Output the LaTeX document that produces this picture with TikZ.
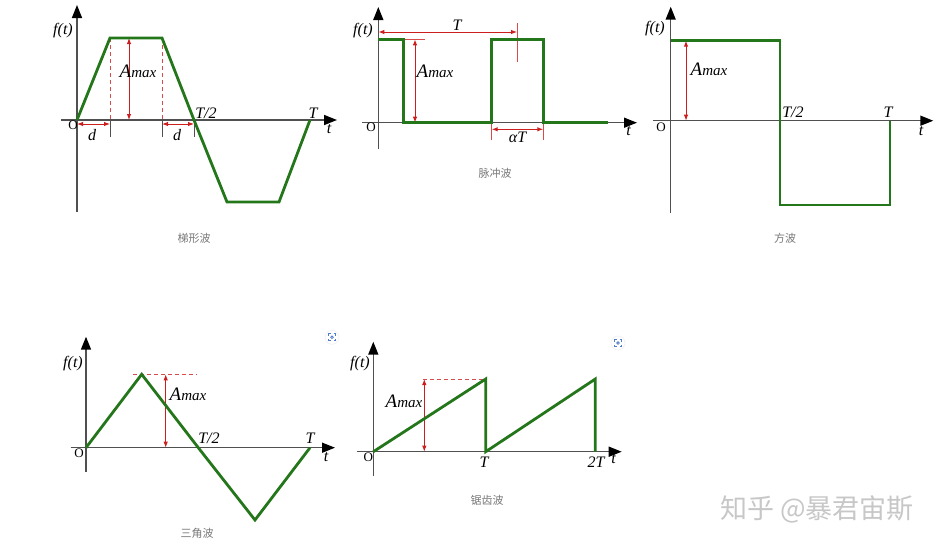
\documentclass[tikz,border=0pt]{standalone}
\usepackage{fontspec}
\setmainfont{Liberation Serif}
\newfontfamily\cjk{Noto Sans CJK SC}
\usepackage{tikz}
\usetikzlibrary{arrows.meta}
\definecolor{wavegreen}{RGB}{36,118,26}
\definecolor{dimred}{RGB}{205,30,30}
\definecolor{axisgray}{RGB}{80,80,80}
\definecolor{capgray}{RGB}{120,120,120}
\definecolor{iconblue}{RGB}{80,125,205}
\newcommand{\Amax}{{\fontsize{19}{19}\selectfont A}{\fontsize{15}{15}\selectfont max}}

\begin{document}
\begin{tikzpicture}[x=1pt, y=-1pt,
  axisline/.style={axisgray, line width=1.5pt, -{Triangle[length=13pt,width=10pt,color=black]}},
  wave/.style={wavegreen, line width=2.8pt, line join=miter},
  dimline/.style={dimred, line width=1pt, {Latex[length=6pt,width=4.5pt]}-{Latex[length=6pt,width=4.5pt]}},
  guide/.style={dimred!80, line width=1pt, dash pattern=on 4pt off 3pt},
  redline/.style={dimred!80, line width=1pt},
  tickline/.style={axisgray, line width=1pt},
  lbl/.style={font=\fontsize{16}{16}\selectfont\itshape, inner sep=0pt},
  orig/.style={font=\fontsize{13}{13}\selectfont, inner sep=0pt},
  wavecap/.style={font=\cjk\fontsize{11}{11}\selectfont, text=capgray, inner sep=0pt}]
  \useasboundingbox (0,0) rectangle (942,547);

  % trapezoid wave
  \draw[axisline] (61,120) -- (337,120);
  \draw[axisline] (77,212) -- (77,5);
  \draw[guide] (110,38) -- (110,120);
  \draw[guide] (162,38) -- (162,120);
  \foreach \x in {110,162,194}{
  \draw[tickline] (\x,120) -- (\x,137);
  }
  \draw[dimline] (129,38) -- (129,120);
  \draw[dimline] (77,124) -- (110,124);
  \draw[dimline] (162,124) -- (194,124);
  \draw[wave] (77,120) -- (110,38) -- (162,38) -- (194,120) -- (227,202) -- (279,202) -- (310,120);
  \node[lbl] (f1) at (63,31) {f(t)};
  \node[lbl] (a1) at (138,71) {\Amax};
  \node[orig] (o1) at (73,125) {O};
  \node[lbl] (d1) at (92,135) {d};
  \node[lbl] (d2) at (177,135) {d};
  \node[lbl] (h1) at (206,113) {T/2};
  \node[lbl] (p1) at (313,113) {T};
  \node[lbl] (t1) at (329,129) {t};
  \node[wavecap] (c1) at (194,238) {梯形波};

  % pulse wave
  \draw[axisline] (362,122.7) -- (637,122.7);
  \draw[axisline] (378.3,149) -- (378.3,7);
  \draw[dimline] (378.3,32) -- (517,32);
  \draw[redline] (517,23) -- (517,62);
  \draw[redline] (403,39.3) -- (425,39.3);
  \draw[dimline] (415,39.3) -- (415,122.7);
  \draw[redline] (491.7,122.7) -- (491.7,140);
  \draw[redline] (543.3,122.7) -- (543.3,140);
  \draw[dimline] (491.7,129.3) -- (543.3,129.3);
  \draw[wave] (378.3,39.3) -- (403.3,39.3) -- (403.3,122.7) -- (491.7,122.7) -- (491.7,39.3) -- (543.3,39.3) -- (543.3,122.7) -- (608,122.7);
  \node[lbl] (f2) at (363,31) {f(t)};
  \node[lbl] (p2) at (457,25) {T};
  \node[lbl] (a2) at (435,71) {\Amax};
  \node[orig] (o2) at (371,127.5) {O};
  \node[lbl] (w2) at (517.5,137) {αT};
  \node[lbl] (t2) at (628.5,131) {t};
  \node[wavecap] (c2) at (495,173.5) {脉冲波};

  % square wave
  \draw[axisline] (653,120.7) -- (933.3,120.7);
  \draw[axisline] (670.7,212.7) -- (670.7,6.7);
  \draw[dimline] (686,40.7) -- (686,120.7);
  \draw[wave] (670.7,40.7) -- (780,40.7) -- (780,205) -- (890,205) -- (890,120.7);
  \node[lbl] (f3) at (655,29) {f(t)};
  \node[lbl] (a3) at (709,69) {\Amax};
  \node[orig] (o3) at (661,127) {O};
  \node[lbl] (h3) at (793,112) {T/2};
  \node[lbl] (p3) at (888,112) {T};
  \node[lbl] (t3) at (921,131) {t};
  \node[wavecap] (c3) at (785,238) {方波};

  % triangle wave
  \draw[axisline] (70.7,447.7) -- (335,447.7);
  \draw[axisline] (86,471.7) -- (86,336.7);
  \draw[guide] (133.3,374.3) -- (196.7,374.3);
  \draw[dimline] (165.7,374.3) -- (165.7,447.7);
  \draw[wave] (86,447.7) -- (141.7,374.3) -- (198.3,447.7) -- (255,520) -- (310,447.7);
  \node[lbl] (f4) at (73,364) {f(t)};
  \node[lbl] (a4) at (188,394) {\Amax};
  \node[orig] (o4) at (79,453.5) {O};
  \node[lbl] (h4) at (209,438) {T/2};
  \node[lbl] (p4) at (310,438) {T};
  \node[lbl] (t4) at (326,457.5) {t};
  \node[wavecap] (c4) at (197,533.5) {三角波};

  % sawtooth wave
  \draw[axisline] (357.3,451.7) -- (621.7,451.7);
  \draw[axisline] (373.3,476) -- (373.3,341.7);
  \draw[guide] (423.3,379) -- (485.7,379);
  \draw[dimline] (424.3,379) -- (424.3,451.7);
  \draw[wave] (373.3,451.7) -- (485.7,379) -- (485.7,451.7) -- (595.3,379) -- (595.3,451.7);
  \node[lbl] (f5) at (360,364) {f(t)};
  \node[lbl] (a5) at (404,401.5) {\Amax};
  \node[orig] (o5) at (368.3,457) {O};
  \node[lbl] (p5) at (484,462) {T};
  \node[lbl] (q5) at (596,462) {2T};
  \node[lbl] (t5) at (613.5,459.5) {t};
  \node[wavecap] (c5) at (487,500) {锯齿波};

  % scan icons
  \foreach \ix/\iy in {332/337.3, 618/343}{
  \fill[white, draw=black!6, line width=0.6pt] (\ix,\iy) circle (7);
  \draw[iconblue, line width=0.8pt] (\ix-3.5,\iy-1.5) -- (\ix-3.5,\iy-3.5) -- (\ix-1.5,\iy-3.5)
        (\ix+1.5,\iy-3.5) -- (\ix+3.5,\iy-3.5) -- (\ix+3.5,\iy-1.5)
        (\ix+3.5,\iy+1.5) -- (\ix+3.5,\iy+3.5) -- (\ix+1.5,\iy+3.5)
        (\ix-1.5,\iy+3.5) -- (\ix-3.5,\iy+3.5) -- (\ix-3.5,\iy+1.5);
  \draw[iconblue, line width=0.8pt] (\ix,\iy) circle (1.3);
  }

  % watermark
  \node[font=\cjk\fontsize{27}{27}\selectfont, text=black!22, inner sep=0pt] (wm) at (817,509) {知乎 @暴君宙斯};
\end{tikzpicture}
\end{document}
